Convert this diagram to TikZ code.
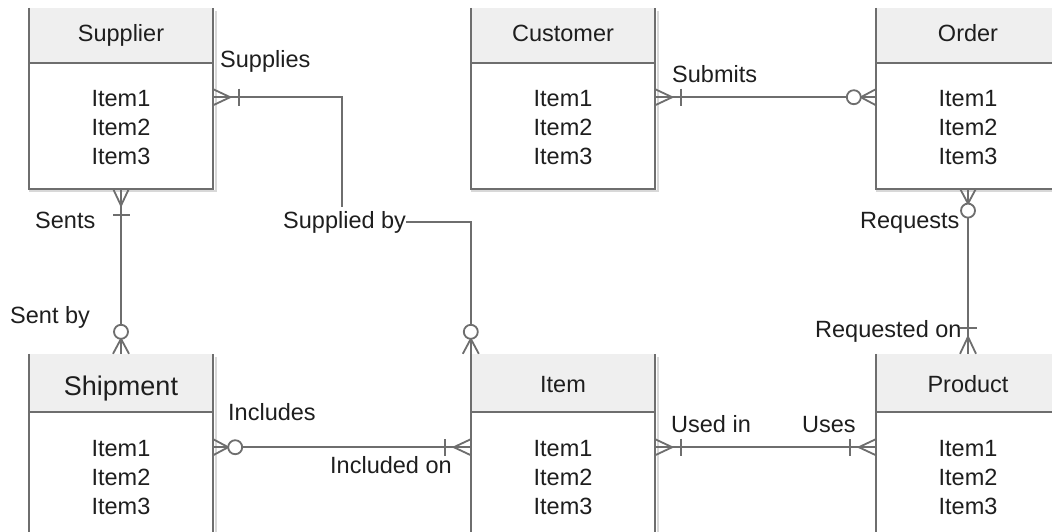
\documentclass[tikz,border=0pt]{standalone}
\usepackage{fontspec}
\setmainfont{Liberation Sans}
\usetikzlibrary{calc}
\definecolor{hdrfill}{HTML}{EFEFEF}
\definecolor{edge}{HTML}{6E6E6E}
\definecolor{txt}{HTML}{1E1E1E}
\definecolor{shd}{HTML}{D8D8D8}
\tikzset{
  hdr/.style={rectangle, fill=hdrfill, minimum width=184pt, inner sep=0pt, text=txt,
    text height=17pt, text depth=5pt, font=\fontsize{23.5}{29}\selectfont},
  body/.style={rectangle, fill=white, minimum width=184pt, inner sep=0pt, align=center,
    text=txt, font=\fontsize{23.5}{29}\selectfont},
  lbl/.style={inner sep=0pt, anchor=base west, text=txt, font=\fontsize{23.5}{29}\selectfont},
  conn/.style={draw=edge, line width=1.8pt},
  boxline/.style={draw=edge, line width=2pt},
  shadowline/.style={draw=shd, line width=2pt},
  pics/onemany/.style={code={
    \draw[conn] (0,-8) -- (17,0) -- (0,8);
    \draw[conn] (26,-8.5) -- (26,8.5);
  }},
  pics/zeromany/.style={code={
    \draw[conn] (0,-8) -- (15,0) -- (0,8);
    \draw[conn, fill=white] (22,0) circle (7pt);
  }},
}
\begin{document}
\begin{tikzpicture}[x=1pt,y=-1pt]
\useasboundingbox (0,0) rectangle (1052,531);
\clip (0,0) rectangle (1052,531);
\fill[white] (0,0) rectangle (1052,531);

% ---- entities, top row
\node[hdr, minimum height=55pt] (sup) at (121,35.5) {Supplier};
\node[body, minimum height=121pt, anchor=north] (supb) at ([yshift=-4pt]sup.south) {Item1\\Item2\\Item3};
\node[hdr, minimum height=55pt] (cus) at (563,35.5) {Customer};
\node[body, minimum height=121pt, anchor=north] (cusb) at ([yshift=-4pt]cus.south) {Item1\\Item2\\Item3};
\node[hdr, minimum height=55pt] (ord) at (968,35.5) {Order};
\node[body, minimum height=121pt, anchor=north] (ordb) at ([yshift=-4pt]ord.south) {Item1\\Item2\\Item3};

% ---- entities, bottom row
\node[hdr, minimum height=58pt, text height=29pt, text depth=5pt, font=\fontsize{27}{30}\selectfont] (shi) at (121,383) {Shipment};
\node[body, minimum height=130pt, anchor=north] (shib) at (shi.south) {Item1\\Item2\\Item3};
\node[hdr, minimum height=58pt, text height=23pt] (ite) at (563,383) {Item};
\node[body, minimum height=130pt, anchor=north] (iteb) at (ite.south) {Item1\\Item2\\Item3};
\node[hdr, minimum height=58pt, text height=23pt] (pro) at (968,383) {Product};
\node[body, minimum height=130pt, anchor=north] (prob) at (pro.south) {Item1\\Item2\\Item3};

% ---- shadows and borders
\foreach \h/\b in {sup/supb, cus/cusb, ord/ordb, shi/shib, ite/iteb, pro/prob}{
  \draw[shadowline] ([xshift=2.5pt,yshift=-3pt]\h.north east) |- ([yshift=-2.5pt]\b.south west);
  \draw[boxline] (\h.north west) -- (\b.south west) -- (\b.south east) -- (\h.north east);
  \draw[boxline] (\h.south west) -- (\h.south east);
}

% ---- labels
\node[lbl] (lsupplies) at (220,67) {Supplies};
\node[lbl] (lsubmits) at (672,82) {Submits};
\node[lbl] (sby) at (283,228) {Supplied by};
\node[lbl] (lsents) at (35,228) {Sents};
\node[lbl] (lsentby) at (10,323) {Sent by};
\node[lbl] (lrequests) at (860,228) {Requests};
\node[lbl] (lreqon) at (815,337) {Requested on};
\node[lbl] (lincludes) at (228,420) {Includes};
\node[lbl] (linclon) at (330,473) {Included on};
\node[lbl] (lusedin) at (671,432) {Used in};
\node[lbl] (luses) at (802,432) {Uses};

% ---- connection points
\coordinate (c1a) at ($(supb.north east)+(0,30)$);
\coordinate (c2a) at ($(cusb.north east)+(0,30)$);
\coordinate (c2b) at ($(ordb.north west)+(0,30)$);
\coordinate (c5a) at ($(shib.north east)+(0,35)$);
\coordinate (c5b) at ($(iteb.north west)+(0,35)$);
\coordinate (c6a) at ($(iteb.north east)+(0,35)$);
\coordinate (c6b) at ($(prob.north west)+(0,35)$);

% ---- connectors
\draw[conn] (c1a) -| ([xshift=-3pt,yshift=4pt]sby.north);
\draw[conn] (sby.east) -| (ite.north west);
\draw[conn] (c2a) -- (c2b);
\draw[conn] (supb.south) -- (shi.north);
\draw[conn] (ordb.south) -- (pro.north);
\draw[conn] (c5a) -- (c5b);
\draw[conn] (c6a) -- (c6b);

% ---- cardinality marks
\pic at (c1a) {onemany};
\pic[rotate=90] at (ite.north west) {zeromany};
\pic at (c2a) {onemany};
\pic[rotate=180] at (c2b) {zeromany};
\pic[rotate=-90] at (supb.south) {onemany};
\pic[rotate=90] at (shi.north) {zeromany};
\pic[rotate=-90] at (ordb.south) {zeromany};
\pic[rotate=90] at (pro.north) {onemany};
\pic at (c5a) {zeromany};
\pic[rotate=180] at (c5b) {onemany};
\pic at (c6a) {onemany};
\pic[rotate=180] at (c6b) {onemany};
\end{tikzpicture}
\end{document}
